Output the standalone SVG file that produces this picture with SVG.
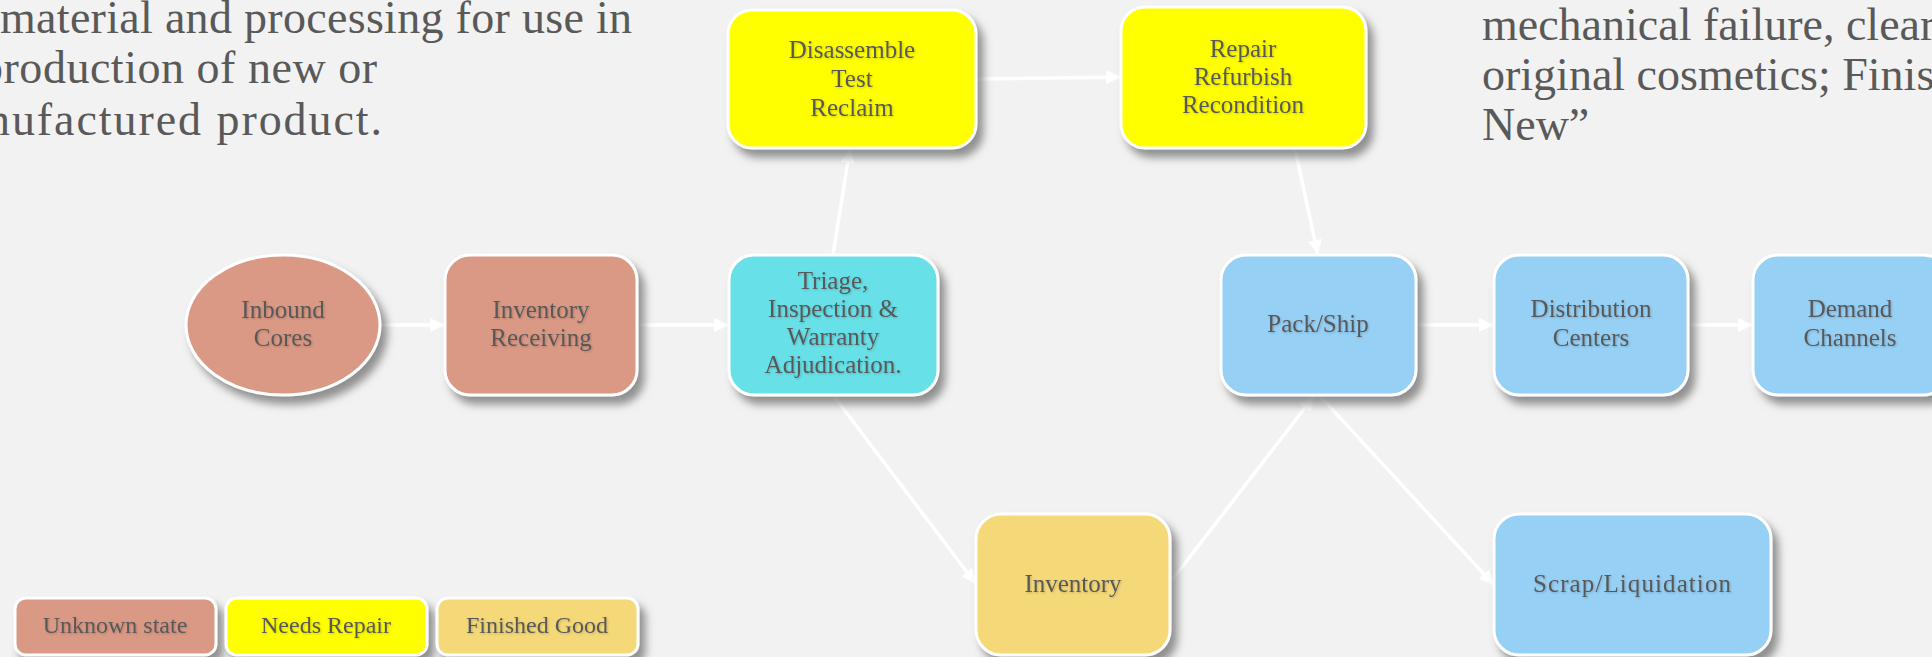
<svg xmlns="http://www.w3.org/2000/svg" width="1932" height="657" viewBox="0 0 1932 657">
<style>
.bg{fill:#F2F2F2}
.node{stroke:#FFFFFF;stroke-width:3;filter:url(#shadow)}
.unk{fill:#DA9985}
.tri{fill:#68E0E8}
.rep{fill:#FFFF00}
.fin{fill:#F5D978}
.blu{fill:#96D0F5}
.lbl{font-family:"Liberation Serif",serif;font-size:25px;fill:#595959;text-anchor:middle;filter:url(#tshadow)}
.leg{font-size:24px}
.big{font-family:"Liberation Serif",serif;font-size:46px;fill:#595959}
.conn{stroke:#FFFFFF;stroke-width:3.5;fill:none;marker-end:url(#arrow)}
</style>
<defs>
<filter id="shadow" x="-20%" y="-20%" width="150%" height="150%">
<feDropShadow dx="6" dy="8" stdDeviation="4" flood-color="#6E6E6E" flood-opacity="0.75"/>
</filter>
<filter id="tshadow" x="-10%" y="-30%" width="120%" height="160%">
<feDropShadow dx="1" dy="1" stdDeviation="1" flood-color="#000000" flood-opacity="0.2"/>
</filter>
<marker id="arrow" viewBox="0 0 15 14" refX="15" refY="7" markerWidth="15" markerHeight="14" markerUnits="userSpaceOnUse" orient="auto">
<path d="M0,0 L15,7 L0,14 z" fill="#FFFFFF"/>
</marker>
</defs>
<rect class="bg" x="0" y="0" width="1932" height="657"/>

<g id="text-left">
<text class="big" x="0" y="33" textLength="632" lengthAdjust="spacing">material and processing for use in</text>
<text class="big" x="-20" y="83" textLength="397" lengthAdjust="spacing">production of new or</text>
<text class="big" x="-13" y="135" textLength="395" lengthAdjust="spacing">nufactured product.</text>
</g>
<g id="text-right">
<text class="big" x="1482" y="40">mechanical failure, clear</text>
<text class="big" x="1482" y="90">original cosmetics; Finis</text>
<text class="big" x="1482" y="140">New”</text>
</g>

<g id="connectors">
<line class="conn" x1="380" y1="325" x2="445" y2="325"/>
<line class="conn" x1="637" y1="325" x2="729" y2="325"/>
<line class="conn" x1="833" y1="255" x2="850" y2="148"/>
<line class="conn" x1="977" y1="79" x2="1121" y2="77"/>
<line class="conn" x1="1295" y1="149" x2="1318" y2="255"/>
<line class="conn" x1="1416" y1="325" x2="1494" y2="325"/>
<line class="conn" x1="1688" y1="325" x2="1753" y2="325"/>
<line class="conn" x1="833" y1="395" x2="976" y2="584"/>
<line class="conn" x1="1172" y1="580" x2="1314" y2="396"/>
<line class="conn" x1="1320" y1="396" x2="1494" y2="585"/>
</g>

<g id="inbound-cores">
<ellipse class="node unk" cx="283" cy="325" rx="97" ry="70"/>
<text class="lbl" x="283" y="318">Inbound</text>
<text class="lbl" x="283" y="346">Cores</text>
</g>
<g id="inventory-receiving">
<rect class="node unk" x="445" y="255" width="192" height="140" rx="25"/>
<text class="lbl" x="541" y="318">Inventory</text>
<text class="lbl" x="541" y="346">Receiving</text>
</g>
<g id="triage">
<rect class="node tri" x="729" y="255" width="209" height="140" rx="25"/>
<text class="lbl" x="833" y="289">Triage,</text>
<text class="lbl" x="833" y="317">Inspection &amp;</text>
<text class="lbl" x="833" y="345">Warranty</text>
<text class="lbl" x="833" y="373">Adjudication.</text>
</g>
<g id="disassemble">
<rect class="node rep" x="728" y="10" width="248" height="138" rx="24"/>
<text class="lbl" x="852" y="58">Disassemble</text>
<text class="lbl" x="852" y="87">Test</text>
<text class="lbl" x="852" y="116">Reclaim</text>
</g>
<g id="repair">
<rect class="node rep" x="1121" y="7" width="245" height="141" rx="24"/>
<text class="lbl" x="1243" y="57">Repair</text>
<text class="lbl" x="1243" y="85">Refurbish</text>
<text class="lbl" x="1243" y="113">Recondition</text>
</g>
<g id="pack-ship">
<rect class="node blu" x="1221" y="255" width="195" height="140" rx="25"/>
<text class="lbl" x="1318" y="332">Pack/Ship</text>
</g>
<g id="distribution-centers">
<rect class="node blu" x="1494" y="255" width="194" height="140" rx="25"/>
<text class="lbl" x="1591" y="317">Distribution</text>
<text class="lbl" x="1591" y="346">Centers</text>
</g>
<g id="demand-channels">
<rect class="node blu" x="1753" y="255" width="195" height="140" rx="25"/>
<text class="lbl" x="1850" y="317">Demand</text>
<text class="lbl" x="1850" y="346">Channels</text>
</g>
<g id="inventory">
<rect class="node fin" x="976" y="514" width="194" height="141" rx="25"/>
<text class="lbl" x="1073" y="592">Inventory</text>
</g>
<g id="scrap-liquidation">
<rect class="node blu" x="1494" y="514" width="277" height="141" rx="25"/>
<text class="lbl" x="1632" y="592" textLength="198" lengthAdjust="spacing">Scrap/Liquidation</text>
</g>

<g id="legend-unknown">
<rect class="node unk" x="15" y="598" width="201" height="57" rx="11"/>
<text class="lbl leg" x="115" y="633">Unknown state</text>
</g>
<g id="legend-repair">
<rect class="node rep" x="226" y="598" width="201" height="57" rx="11"/>
<text class="lbl leg" x="326" y="633">Needs Repair</text>
</g>
<g id="legend-finished">
<rect class="node fin" x="437" y="598" width="201" height="57" rx="11"/>
<text class="lbl leg" x="537" y="633">Finished Good</text>
</g>
</svg>
